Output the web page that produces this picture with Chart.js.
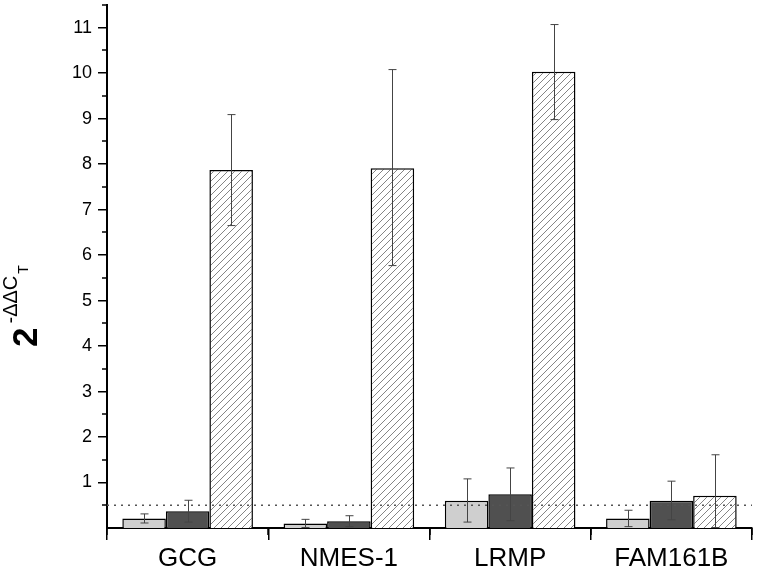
<!DOCTYPE html>
<html>
<head>
<meta charset="utf-8">
<script src="https://cdn.jsdelivr.net/npm/chart.js@4"></script>
<style>
  html, body { margin: 0; padding: 0; background: #fff; }
  #wrap { width: 757px; height: 574px; position: relative; }
</style>
</head>
<body>
<div id="wrap"><canvas id="chart"></canvas></div>
<script>
const categories = ["GCG", "NMES-1", "LRMP", "FAM161B"];

const lightVals = [0.21, 0.10, 0.60, 0.21];
const lightLow = [0.11, 0.01, 0.13, 0.03];
const lightHigh = [0.31, 0.19, 1.08, 0.39];

const darkVals = [0.37, 0.15, 0.74, 0.60];
const darkLow = [0.13, 0.03, 0.16, 0.18];
const darkHigh = [0.61, 0.27, 1.32, 1.03];

const hatchVals = [7.87, 7.91, 10.03, 0.71];
const hatchLow = [6.65, 5.77, 8.98, 0.01];
const hatchHigh = [9.09, 10.08, 11.07, 1.61];

const yTicks = [1, 2, 3, 4, 5, 6, 7, 8, 9, 10, 11];
const thresholdValue = 0.5;

const FONT = "'Liberation Sans', Arial, sans-serif";

function makeHatch() {
  const size = 7;
  const c = document.createElement("canvas");
  c.width = size;
  c.height = size;
  const g = c.getContext("2d");
  g.fillStyle = "#fff";
  g.fillRect(0, 0, size, size);
  g.strokeStyle = "#777";
  g.lineWidth = 0.9;
  g.beginPath();
  g.moveTo(0, size); g.lineTo(size, 0);
  g.moveTo(-size / 2, size / 2); g.lineTo(size / 2, -size / 2);
  g.moveTo(size / 2, size * 1.5); g.lineTo(size * 1.5, size / 2);
  g.stroke();
  return g.createPattern(c, "repeat");
}

const errorBars = [
  [lightLow, lightHigh],
  [darkLow, darkHigh],
  [hatchLow, hatchHigh],
];

const extrasPlugin = {
  id: "extras",
  afterDatasetsDraw(chart) {
    const { ctx, chartArea, scales } = chart;
    const y = scales.y;
    ctx.save();

    // dotted threshold line
    ctx.strokeStyle = "#555";
    ctx.lineWidth = 1.5;
    ctx.setLineDash([2, 5]);
    const ty = y.getPixelForValue(thresholdValue);
    ctx.beginPath();
    ctx.moveTo(chartArea.left, ty);
    ctx.lineTo(chartArea.right, ty);
    ctx.stroke();
    ctx.setLineDash([]);

    // error bars
    ctx.strokeStyle = "#444";
    ctx.lineWidth = 1;
    errorBars.forEach(([lo, hi], i) => {
      const meta = chart.getDatasetMeta(i);
      meta.data.forEach((bar, j) => {
        const x = Math.round(bar.x) + 0.5;
        const y1 = y.getPixelForValue(lo[j]);
        const y2 = y.getPixelForValue(hi[j]);
        ctx.beginPath();
        ctx.moveTo(x, y1); ctx.lineTo(x, y2);
        ctx.moveTo(x - 4, y1); ctx.lineTo(x + 4, y1);
        ctx.moveTo(x - 4, y2); ctx.lineTo(x + 4, y2);
        ctx.stroke();
      });
    });
    ctx.restore();
  },
  afterDraw(chart) {
    const { ctx, chartArea, scales } = chart;
    const y = scales.y;
    ctx.save();
    ctx.strokeStyle = "#000";
    ctx.lineWidth = 1.5;

    // minor y ticks
    ctx.beginPath();
    for (let v = 0.5; v <= 11.5; v += 1) {
      const py = Math.round(y.getPixelForValue(v));
      ctx.moveTo(chartArea.left - 5, py);
      ctx.lineTo(chartArea.left, py);
    }
    // minor x ticks at category boundaries
    const step = (chartArea.right - chartArea.left) / categories.length;
    for (let i = 0; i <= categories.length; i++) {
      const px = Math.round(chartArea.left + i * step);
      ctx.moveTo(px, chartArea.bottom);
      ctx.lineTo(px, chartArea.bottom + 7);
    }
    ctx.stroke();

    // y axis title 2^-ΔΔC_T
    ctx.fillStyle = "#000";
    ctx.translate(37, 347);
    ctx.rotate(-Math.PI / 2);
    ctx.textBaseline = "alphabetic";
    ctx.font = "bold 35px " + FONT;
    ctx.fillText("2", 0, 0);
    let x = ctx.measureText("2").width + 4;
    ctx.font = "20px " + FONT;
    ctx.fillText("-ΔΔC", x, -20);
    x += ctx.measureText("-ΔΔC").width + 2;
    ctx.font = "14px " + FONT;
    ctx.fillText("T", x, -9);
    ctx.restore();
  },
};

const hatch = makeHatch();

new Chart(document.getElementById("chart"), {
  type: "bar",
  data: {
    labels: categories,
    datasets: [
      { data: lightVals, backgroundColor: "#cfcfcf" },
      { data: darkVals, backgroundColor: "#505050" },
      { data: hatchVals, backgroundColor: hatch },
    ],
  },
  options: {
    responsive: true,
    maintainAspectRatio: false,
    animation: false,
    layout: { padding: { top: 5, right: 5, left: 0, bottom: 0 } },
    datasets: {
      bar: {
        borderColor: "#000",
        borderWidth: 1.5,
        barPercentage: 1,
        categoryPercentage: 0.81,
      },
    },
    plugins: {
      legend: { display: false },
      tooltip: { enabled: false },
    },
    scales: {
      x: {
        offset: true,
        grid: { drawOnChartArea: false, tickLength: 12, color: "#000", lineWidth: 1.5 },
        border: { color: "#000", width: 2 },
        ticks: { color: "#000", font: { family: FONT, size: 26 }, padding: 3 },
        afterFit: (scale) => { scale.height = 46; scale.paddingLeft = 0; scale.paddingRight = 0; },
      },
      y: {
        min: 0,
        max: 11.5,
        grid: { drawOnChartArea: false, tickLength: 9, color: "#000", lineWidth: 1.5 },
        border: { color: "#000", width: 2 },
        ticks: { stepSize: 1, color: "#000", font: { family: FONT, size: 18 }, padding: 6 },
        afterBuildTicks: (scale) => {
          scale.ticks = yTicks.map((v) => ({ value: v }));
        },
        afterFit: (scale) => { scale.width = 107; scale.paddingTop = 0; scale.paddingBottom = 0; },
      },
    },
  },
  plugins: [extrasPlugin],
});
</script>
</body>
</html>
